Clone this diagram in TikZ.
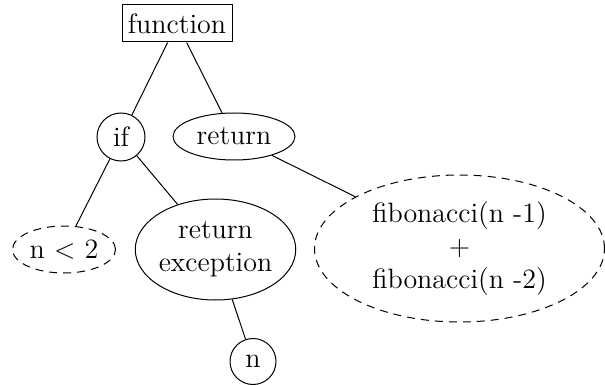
\documentclass[tikz,border=0pt]{standalone}
\usepackage{fontspec}
\usetikzlibrary{shapes.geometric}
\begin{document}
\begin{tikzpicture}[x=0.5pt,y=-0.5pt,
  every node/.style={font=\fontsize{14}{16.5}\selectfont, inner sep=0pt, line width=0.5pt, align=center},
  box/.style={draw, rectangle, minimum width=55pt, minimum height=18.5pt},
  circ/.style={draw, circle},
  ell/.style={draw, ellipse},
  dsh/.style={dash pattern=on 4pt off 3pt},
  edge/.style={line width=0.5pt}]
\useasboundingbox (0,0) rectangle (605,385);
\node[box] (function) at (177,23.5) {function};
\node[circ, minimum size=24pt] (if) at (121,137) {if};
\node[ell, minimum width=61pt, minimum height=23.5pt] (return) at (234,136.5) {return};
\node[ell, dsh, minimum width=51.5pt, minimum height=23.5pt] (cond) at (64,249.5) {n < 2};
\node[ell, minimum width=79.5pt, minimum height=50.5pt] (exc) at (215.5,249.5) {return\\exception};
\node[circ, minimum size=23pt] (n) at (253,361.5) {n};
\node[ell, dsh, minimum width=145pt, minimum height=73.5pt] (fib) at (459.5,248.5) {fibonacci(n -1)\\+\\fibonacci(n -2)};
\draw[edge] (function) -- (if);
\draw[edge] (function) -- (return);
\draw[edge] (if) -- (cond);
\draw[edge] (if) -- (exc);
\draw[edge] (exc) -- (n);
\draw[edge] (return) -- (fib);
\end{tikzpicture}
\end{document}
